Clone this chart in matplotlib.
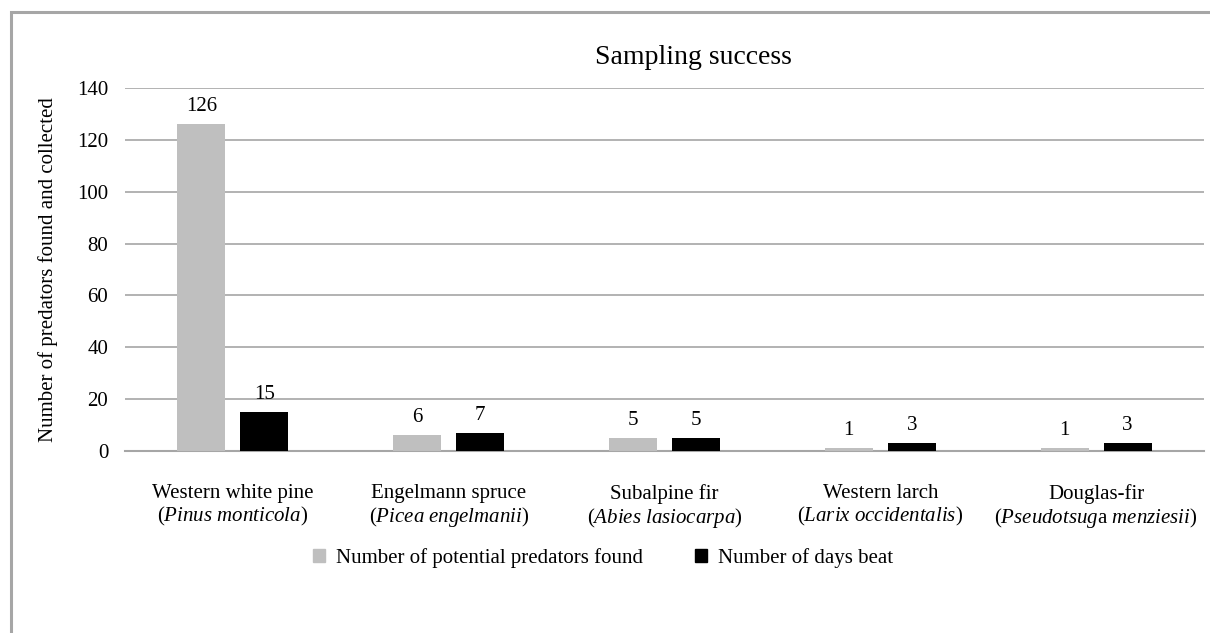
import numpy as np
import matplotlib
matplotlib.use("Agg")
import matplotlib.pyplot as plt
from matplotlib.patches import Rectangle, Patch

plt.rcParams['font.family'] = ['Liberation Serif', 'DejaVu Serif']
plt.rcParams['mathtext.fontset'] = 'custom'
plt.rcParams['mathtext.rm'] = 'Liberation Serif'
plt.rcParams['mathtext.it'] = 'Liberation Serif:italic'

# data
species = [
    "Western white pine\n($\\it{Pinus\\ monticola}$)",
    "Engelmann spruce\n($\\it{Picea\\ engelmanii}$)",
    "Subalpine fir\n($\\it{Abies\\ lasiocarpa}$)",
    "Western larch\n($\\it{Larix\\ occidentalis}$)",
    "Douglas-fir\n($\\it{Pseudotsug}$a $\\it{menziesii}$)",
]
predators_found = [126, 6, 5, 1, 1]
days_beat = [15, 7, 5, 3, 3]
series_names = ["Number of potential predators found", "Number of days beat"]
y_ticks = [0, 20, 40, 60, 80, 100, 120, 140]

W, H = 1210, 633
fig = plt.figure(figsize=(W / 100, H / 100), dpi=100)
# plot area: 140 at y=88 px, 0 at y=451 px
ax = fig.add_axes([125 / W, 1 - 451 / H, (1204 - 125) / W, 363 / H])

x = np.arange(len(species))
bw = 0.222
off = 0.146
b1 = ax.bar(x - off, predators_found, bw, color='#BFBFBF', zorder=3)
b2 = ax.bar(x + off, days_beat, bw, color='#000000', zorder=3)

for bars, vals in ((b1, predators_found), (b2, days_beat)):
    for rect, v in zip(bars, vals):
        ax.annotate(str(v), (rect.get_x() + rect.get_width() / 2, v),
                    xytext=(0, 6), textcoords='offset points',
                    ha='center', va='bottom', fontsize=15)

ax.set_xlim(-0.5, len(species) - 0.5)
ax.set_ylim(0, 140)
ax.set_yticks(y_ticks)
ax.set_xticks(x)
ax.set_xticklabels(species, fontsize=15, linespacing=1.1)
ax.tick_params(axis='y', length=0, pad=12, labelsize=15)
ax.tick_params(axis='x', length=0, pad=24)
ax.yaxis.grid(True, color='#A6A6A6', lw=1.2, zorder=0)
for s in ('top', 'right', 'left'):
    ax.spines[s].set_visible(False)
ax.spines['bottom'].set_color('#A6A6A6')
ax.spines['bottom'].set_linewidth(1.5)
ax.set_ylabel("Number of predators found and collected", fontsize=15, labelpad=14)

fig.text(693 / W, 1 - 58 / H, "Sampling success", ha='center', va='center', fontsize=20)

handles = [Patch(color='#BFBFBF'), Patch(color='#000000')]
fig.legend(handles, series_names, loc='center', bbox_to_anchor=(603 / W, 1 - 558 / H),
           ncol=2, frameon=False, fontsize=15, handlelength=0.6, handleheight=0.6,
           handletextpad=0.5, columnspacing=2.5)

fig.patches.append(Rectangle((11 / W, -0.1), 1.2, 1.1 - 12 / H, transform=fig.transFigure,
                             fill=False, edgecolor='#A6A6A6', lw=2.2))

fig.savefig("out.png", dpi=100)
